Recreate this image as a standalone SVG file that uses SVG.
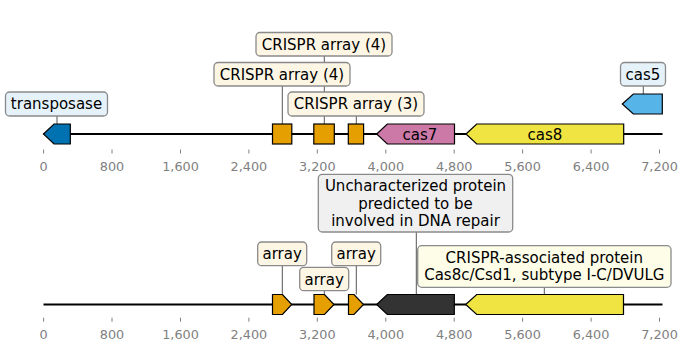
<svg xmlns="http://www.w3.org/2000/svg" width="688" height="351" viewBox="0 0 688 351">
  <style>
    .bb { stroke: #000; stroke-width: 2; fill: none; }
    .tick { stroke: #808080; stroke-width: 1; }
    .ticklbl { font-family: "DejaVu Sans", sans-serif; font-size: 12.8px; fill: #808080; text-anchor: middle; }
    .lead { stroke: #555; stroke-width: 1; fill: none; }
    .feat { stroke: #000; stroke-width: 1.2; stroke-linejoin: miter; }
    .box { stroke: #8a8a8a; stroke-width: 1.3; }
    .lbl { font-family: "DejaVu Sans", sans-serif; font-size: 15px; fill: #000; text-anchor: middle; }
    .blue { fill: #e6f2fa; }
    .cream { fill: #fdf6e4; }
    .grey { fill: #f0f0f0; }
    .pale { fill: #fdfde8; }
  </style>

  <!-- backbones -->
  <g id="backbones">
    <line class="bb" x1="43.5" y1="134" x2="662.5" y2="134"/>
    <line class="bb" x1="43.5" y1="304.5" x2="662.5" y2="304.5"/>
  </g>

  <!-- axes -->
  <g id="axis-top">
    <g class="tick">
      <line x1="43.6" y1="149.5" x2="43.6" y2="153.5"/>
      <line x1="112" y1="149.5" x2="112" y2="153.5"/>
      <line x1="180.5" y1="149.5" x2="180.5" y2="153.5"/>
      <line x1="248.9" y1="149.5" x2="248.9" y2="153.5"/>
      <line x1="317.3" y1="149.5" x2="317.3" y2="153.5"/>
      <line x1="385.8" y1="149.5" x2="385.8" y2="153.5"/>
      <line x1="454.2" y1="149.5" x2="454.2" y2="153.5"/>
      <line x1="522.6" y1="149.5" x2="522.6" y2="153.5"/>
      <line x1="591.1" y1="149.5" x2="591.1" y2="153.5"/>
      <line x1="659.5" y1="149.5" x2="659.5" y2="153.5"/>
    </g>
    <text class="ticklbl" x="43.6" y="170.5">0</text>
    <text class="ticklbl" x="112" y="170.5">800</text>
    <text class="ticklbl" x="180.5" y="170.5">1,600</text>
    <text class="ticklbl" x="248.9" y="170.5">2,400</text>
    <text class="ticklbl" x="317.3" y="170.5">3,200</text>
    <text class="ticklbl" x="385.8" y="170.5">4,000</text>
    <text class="ticklbl" x="454.2" y="170.5">4,800</text>
    <text class="ticklbl" x="522.6" y="170.5">5,600</text>
    <text class="ticklbl" x="591.1" y="170.5">6,400</text>
    <text class="ticklbl" x="659.5" y="170.5">7,200</text>
  </g>
  <g id="axis-bottom">
    <g class="tick">
      <line x1="43.6" y1="317.7" x2="43.6" y2="321.7"/>
      <line x1="112" y1="317.7" x2="112" y2="321.7"/>
      <line x1="180.5" y1="317.7" x2="180.5" y2="321.7"/>
      <line x1="248.9" y1="317.7" x2="248.9" y2="321.7"/>
      <line x1="317.3" y1="317.7" x2="317.3" y2="321.7"/>
      <line x1="385.8" y1="317.7" x2="385.8" y2="321.7"/>
      <line x1="454.2" y1="317.7" x2="454.2" y2="321.7"/>
      <line x1="522.6" y1="317.7" x2="522.6" y2="321.7"/>
      <line x1="591.1" y1="317.7" x2="591.1" y2="321.7"/>
      <line x1="659.5" y1="317.7" x2="659.5" y2="321.7"/>
    </g>
    <text class="ticklbl" x="43.6" y="339">0</text>
    <text class="ticklbl" x="112" y="339">800</text>
    <text class="ticklbl" x="180.5" y="339">1,600</text>
    <text class="ticklbl" x="248.9" y="339">2,400</text>
    <text class="ticklbl" x="317.3" y="339">3,200</text>
    <text class="ticklbl" x="385.8" y="339">4,000</text>
    <text class="ticklbl" x="454.2" y="339">4,800</text>
    <text class="ticklbl" x="522.6" y="339">5,600</text>
    <text class="ticklbl" x="591.1" y="339">6,400</text>
    <text class="ticklbl" x="659.5" y="339">7,200</text>
  </g>

  <!-- label leader lines -->
  <g id="connectors" class="lead">
    <line x1="57" y1="116" x2="57" y2="124"/>
    <line x1="324.3" y1="56" x2="324.3" y2="124"/>
    <line x1="282.3" y1="86" x2="282.3" y2="124"/>
    <line x1="356.3" y1="116" x2="356.3" y2="124"/>
    <line x1="643.3" y1="86" x2="643.3" y2="94"/>
    <line x1="282.3" y1="265.7" x2="282.3" y2="294.5"/>
    <line x1="324.3" y1="290.7" x2="324.3" y2="294.5"/>
    <line x1="356.3" y1="265.7" x2="356.3" y2="294.5"/>
    <line x1="416.3" y1="232" x2="416.3" y2="294.5"/>
    <line x1="544.3" y1="287.3" x2="544.3" y2="294.5"/>
  </g>

  <!-- top record -->
  <g id="transposase">
    <polygon class="feat" fill="#0072B2" points="43.5,134 54,124 70.3,124 70.3,144 54,144"/>
    <rect class="box blue" x="5.5" y="92" width="102" height="24" rx="4"/>
    <text class="lbl" x="56.5" y="109.3">transposase</text>
  </g>
  <g id="crispr-array-1">
    <rect class="feat" fill="#E69F00" x="272.5" y="124" width="19.3" height="20"/>
    <rect class="box cream" x="214" y="62.5" width="136" height="23.5" rx="4"/>
    <text class="lbl" x="282" y="79.5">CRISPR array (4)</text>
  </g>
  <g id="crispr-array-2">
    <rect class="feat" fill="#E69F00" x="313.8" y="124" width="20.5" height="20"/>
    <rect class="box cream" x="256" y="32.5" width="136" height="23.5" rx="4"/>
    <text class="lbl" x="324" y="49.7">CRISPR array (4)</text>
  </g>
  <g id="crispr-array-3">
    <rect class="feat" fill="#E69F00" x="348.3" y="124" width="15.3" height="20"/>
    <rect class="box cream" x="288" y="92" width="136" height="24" rx="4"/>
    <text class="lbl" x="356" y="109.3">CRISPR array (3)</text>
  </g>
  <g id="cas7">
    <polygon class="feat" fill="#CC79A7" points="376.7,134 387.3,124 454.5,124 454.5,144 387.3,144"/>
    <text class="lbl" x="420" y="139.8">cas7</text>
  </g>
  <g id="cas8">
    <polygon class="feat" fill="#F0E442" points="466,134 476.7,124 623.7,124 623.7,144 476.7,144"/>
    <text class="lbl" x="545" y="139.8">cas8</text>
  </g>
  <g id="cas5">
    <polygon class="feat" fill="#56B4E9" points="622.3,104 633.3,94 662.3,94 662.3,114 633.3,114"/>
    <rect class="box blue" x="620.5" y="62.5" width="45" height="23.5" rx="4"/>
    <text class="lbl" x="643" y="79.5">cas5</text>
  </g>

  <!-- bottom record -->
  <g id="array-1">
    <polygon class="feat" fill="#E69F00" points="272.5,294.5 282.5,294.5 291.7,304.5 282.5,314.5 272.5,314.5"/>
    <rect class="box cream" x="257.7" y="242" width="49" height="23.7" rx="4"/>
    <text class="lbl" x="282.2" y="259.2">array</text>
  </g>
  <g id="array-2">
    <polygon class="feat" fill="#E69F00" points="314,294.5 324.5,294.5 334,304.5 324.5,314.5 314,314.5"/>
    <rect class="box cream" x="299.7" y="267.3" width="49" height="23.4" rx="4"/>
    <text class="lbl" x="324.2" y="284.5">array</text>
  </g>
  <g id="array-3">
    <polygon class="feat" fill="#E69F00" points="348.5,294.5 354,294.5 363.5,304.5 354,314.5 348.5,314.5"/>
    <rect class="box cream" x="331.7" y="242" width="49" height="23.7" rx="4"/>
    <text class="lbl" x="356.2" y="259.2">array</text>
  </g>
  <g id="dna-repair-protein">
    <polygon class="feat" fill="#333333" points="376.7,304.5 387.3,294.5 454.3,294.5 454.3,314.5 387.3,314.5"/>
    <rect class="box grey" x="318.3" y="174.3" width="194.4" height="57.7" rx="4"/>
    <text class="lbl" x="415.5" y="191.2">Uncharacterized protein</text>
    <text class="lbl" x="415.5" y="208.5">predicted to be</text>
    <text class="lbl" x="415.5" y="225.8">involved in DNA repair</text>
  </g>
  <g id="cas8c-csd1">
    <polygon class="feat" fill="#F0E442" points="465.7,304.5 476.7,294.5 623.5,294.5 623.5,314.5 476.7,314.5"/>
    <rect class="box pale" x="417.7" y="245.7" width="253.3" height="41.6" rx="4"/>
    <text class="lbl" x="544.3" y="263">CRISPR-associated protein</text>
    <text class="lbl" x="544.3" y="280.3">Cas8c/Csd1, subtype I-C/DVULG</text>
  </g>
</svg>
